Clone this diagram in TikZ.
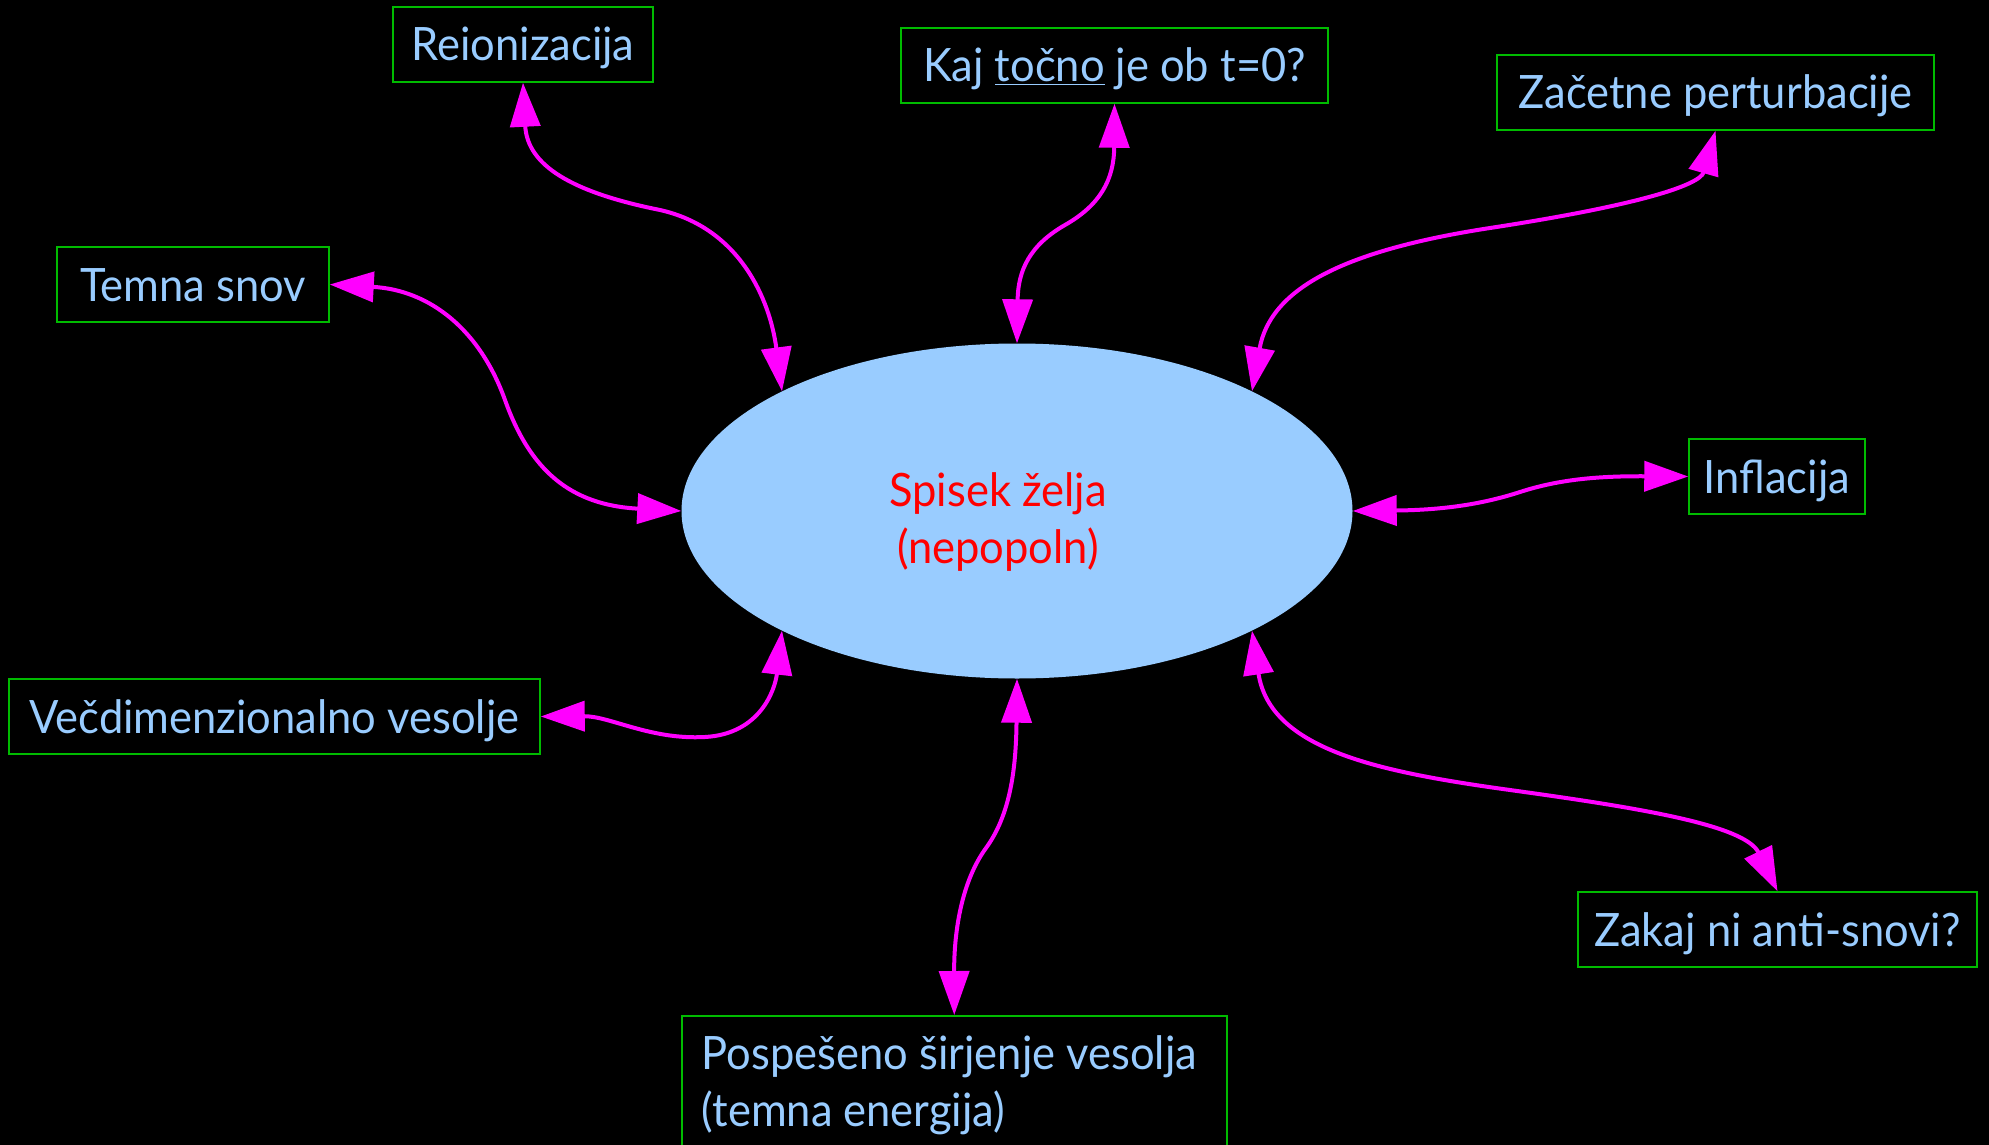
\documentclass[tikz,border=0pt]{standalone}
\usepackage{fontspec}
\setmainfont{Lato}[FakeStretch=0.945]
\usetikzlibrary{shapes.geometric,arrows.meta}
\definecolor{lb}{HTML}{99CCFF}
\definecolor{gr}{HTML}{00BB00}
\definecolor{mg}{HTML}{FF00FF}
\definecolor{rd}{HTML}{FF0000}
\begin{document}
\begin{tikzpicture}[x=1pt,y=-1pt,
  boxbase/.style={draw=gr, line width=1.5pt, text=lb, font=\fontsize{46}{57}\selectfont, inner sep=0pt},
  wbox/.style={boxbase, minimum height=75pt, text height=33pt, text depth=0pt},
  conn/.style={draw=mg, line width=4pt, {Triangle[length=44pt,width=30pt]}-{Triangle[length=44pt,width=30pt]}},
]
\useasboundingbox (0,0) rectangle (1989,1145);
\fill[black] (0,0) rectangle (1989,1145);
\clip (0,0) rectangle (1989,1145);

\node[ellipse, fill=lb, minimum width=671pt, minimum height=335pt, inner sep=0pt] (e) at (1017,511) {};
\node[text=rd, font=\fontsize{46}{57}\selectfont, align=center, inner sep=0pt] (wish) at (998,522) {Spisek želja\\(nepopoln)};

\node[wbox, minimum width=260pt] (rei) at (523,44.5) {Reionizacija};
\node[wbox, minimum width=427pt] (kaj) at (1114.5,65.5) {Kaj \underline{točno} je ob t=0?};
\node[wbox, minimum width=437pt] (zac) at (1715.5,92.5) {Začetne perturbacije};
\node[wbox, minimum width=272pt] (tem) at (193,284.5) {Temna snov};
\node[wbox, minimum width=176pt] (inf) at (1777,476.5) {Inflacija};
\node[wbox, minimum width=531pt] (vec) at (274.5,716.5) {Večdimenzionalno vesolje};
\node[wbox, minimum width=399pt] (zak) at (1777.5,929.5) {Zakaj ni anti-snovi?};
\node[boxbase, anchor=north west, align=left, inner xsep=20pt, inner ysep=20pt] (pos) at (681,1015) {\makebox[505pt][l]{Pospešeno širjenje vesolja}\\\makebox[505pt][l]{(temna energija)}};

\draw[conn] (rei.south) .. controls (527,160) and (560,190) .. (660,210) .. controls (740,228) and (770,300) .. (e.153);
\draw[conn] (kaj.south) .. controls (1114,180) and (1100,205) .. (1065,225) .. controls (1030,245) and (1018,270) .. (e.north);
\draw[conn] (zac.south) .. controls (1700,185) and (1640,205) .. (1490,228) .. controls (1340,251) and (1270,290) .. (e.27);
\draw[conn] (tem.east) .. controls (430,290) and (480,330) .. (505,400) .. controls (530,470) and (570,505) .. (e.west);
\draw[conn] (e.east) .. controls (1440,510) and (1480,505) .. (1520,492) .. controls (1560,479) and (1600,476) .. (inf.west);
\draw[conn] (vec.east) .. controls (610,716) and (650,740) .. (705,737) .. controls (760,734) and (775,690) .. (e.207);
\draw[conn] (e.south) .. controls (1016,770) and (1010,815) .. (986,848) .. controls (962,881) and (954,930) .. (pos.north);
\draw[conn] (e.-27) .. controls (1270,750) and (1380,772) .. (1510,790) .. controls (1640,808) and (1745,825) .. (zak.north);
\end{tikzpicture}
\end{document}
